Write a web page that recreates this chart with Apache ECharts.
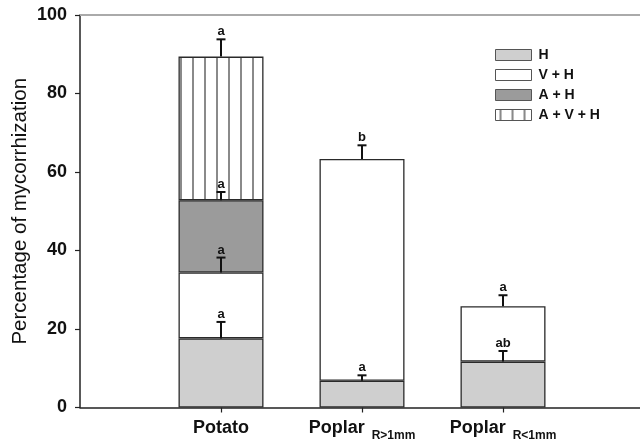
<!DOCTYPE html>
<html><head><meta charset="utf-8">
<script src="https://cdn.jsdelivr.net/npm/echarts@6/dist/echarts.min.js"></script>
<style>html,body{margin:0;padding:0;background:#fff}#c{width:640px;height:442px}</style>
</head><body><div id="c"></div>
<script>
// ---- data ----
const categories = ['', 'Potato', 'Poplar', 'Poplar', ''];
const subscripts = ['', '', 'R>1mm', 'R<1mm', ''];
const seriesNames = ['H', 'V + H', 'A + H', 'A + V + H'];
const valH   = ['-', 17.6, 6.8, 11.7, '-'];
const valVH  = ['-', 16.8, 56.5, 14.1, '-'];
const valAH  = ['-', 18.4, '-', '-', '-'];
const valAVH = ['-', 36.6, '-', '-', '-'];
const errH   = [null, 4.2, 1.4, 2.7, null];
const errVH  = [null, 3.8, 3.5, 2.8, null];
const errAH  = [null, 2.1, null, null, null];
const errAVH = [null, 4.4, null, null, null];
const letH   = ['', 'a', 'a', 'ab', ''];
const letVH  = ['', 'a', 'b', 'a', ''];
const letAH  = ['', 'a', '', '', ''];
const letAVH = ['', 'a', '', '', ''];
const yTickLabels = [0, 20, 40, 60, 80, 100];

// ---- build ----
const FONT = '"Liberation Sans", Arial, sans-serif';
function makePattern(offset) {
  const c = document.createElement('canvas');
  c.width = 12; c.height = 12;
  const g = c.getContext('2d');
  g.fillStyle = '#ffffff'; g.fillRect(0, 0, 12, 12);
  g.fillStyle = '#8a8a8a'; g.fillRect(offset, 0, 2, 12);
  return c;
}
const hatch = { image: makePattern(0), repeat: 'repeat' };
const hatchLegend = { image: makePattern(4), repeat: 'repeat' };

const vals = [valH, valVH, valAH, valAVH];
const errs = [errH, errVH, errAH, errAVH];
const lets = [letH, letVH, letAH, letAVH];
const fills = ['#cfcfcf', '#ffffff', '#9b9b9b', hatch];

const errData = [];
for (let i = 0; i < categories.length; i++) {
  let cum = 0;
  for (let s = 0; s < vals.length; s++) {
    const v = vals[s][i];
    if (typeof v === 'number') {
      cum += v;
      if (errs[s][i] != null) errData.push([i, cum, errs[s][i], lets[s][i]]);
    }
  }
}

const barSeries = seriesNames.map((n, s) => ({
  name: n, type: 'bar', stack: 'tot', barWidth: 85, data: vals[s],
  itemStyle: { color: fills[s], borderColor: '#2a2a2a', borderWidth: 1.3 },
  emphasis: { disabled: true }, animation: false
}));

const errSeries = {
  type: 'custom', z: 10, animation: false,
  data: errData.map(d => [d[0], d[1], d[2]]),
  encode: { x: 0, y: 1 },
  renderItem: function (params, api) {
    const x = api.value(0), top = api.value(1), e = api.value(2);
    const p0 = api.coord([x, top]);
    const p1 = api.coord([x, top + e]);
    const label = errData[params.dataIndex][3];
    return { type: 'group', children: [
      { type: 'line', shape: { x1: p0[0], y1: p0[1], x2: p1[0], y2: p1[1] }, style: { stroke: '#111', lineWidth: 2 } },
      { type: 'line', shape: { x1: p1[0] - 4.5, y1: p1[1], x2: p1[0] + 4.5, y2: p1[1] }, style: { stroke: '#111', lineWidth: 2 } },
      { type: 'text', x: p1[0], y: p1[1] - 1, style: { text: label, align: 'center', verticalAlign: 'bottom', font: 'bold 13px ' + FONT, fill: '#111' } }
    ] };
  }
};

const chart = echarts.init(document.getElementById('c'), null, { renderer: 'canvas' });
chart.setOption({
  animation: false,
  backgroundColor: '#fff',
  grid: { left: 80, width: 564, top: 15, bottom: 34.5, containLabel: false, outerBoundsMode: 'none' },
  legend: {
    orient: 'vertical', left: 495, top: 48, padding: 0, itemWidth: 36, itemHeight: 11, itemGap: 6,
    icon: 'rect', selectedMode: false,
    textStyle: { fontSize: 14, fontWeight: 'bold', fontFamily: FONT, color: '#111', padding: [0, 0, 0, 2] },
    data: seriesNames.map((n, s) => s === 3 ? { name: n, itemStyle: { color: hatchLegend, borderColor: '#555', borderWidth: 1 } } : { name: n, itemStyle: { borderColor: '#555', borderWidth: 1 } })
  },
  xAxis: [{
    type: 'category', data: categories, boundaryGap: false,
    axisLine: { lineStyle: { color: '#222', width: 1.5 } },
    axisTick: { length: 5, lineStyle: { color: '#222', width: 1.2 }, interval: (i) => i > 0 && i < categories.length - 1 },
    axisLabel: {
      interval: 0, margin: 12,
      formatter: (v, i) => v === '' ? '' : (subscripts[i] ? '{m|' + v + ' }{s|' + subscripts[i] + '}' : '{m|' + v + '}'),
      rich: {
        m: { fontSize: 18, fontWeight: 'bold', fontFamily: FONT, color: '#111', lineHeight: 20, verticalAlign: 'top' },
        s: { fontSize: 12, fontWeight: 'bold', fontFamily: FONT, color: '#111', lineHeight: 32, verticalAlign: 'middle', padding: [0, 0, 0, 2] }
      }
    },
    splitLine: { show: false }
  }, {
    type: 'category', data: categories, boundaryGap: false, position: 'top',
    axisLine: { lineStyle: { color: '#aaaaaa', width: 2 } },
    axisTick: { show: false }, axisLabel: { show: false }, splitLine: { show: false }
  }],
  yAxis: {
    type: 'value', min: yTickLabels[0], max: yTickLabels[yTickLabels.length - 1], interval: yTickLabels[1] - yTickLabels[0],
    name: 'Percentage of mycorrhization', nameLocation: 'middle', nameGap: 49, nameMoveOverlap: false,
    nameTextStyle: { fontSize: 20.5, fontFamily: FONT, color: '#111' },
    axisLine: { show: true, lineStyle: { color: '#222', width: 1.5 } },
    axisTick: { show: true, length: 5, lineStyle: { color: '#222', width: 1.2 } },
    axisLabel: { margin: 13, fontSize: 18, fontWeight: 'bold', fontFamily: FONT, color: '#111' },
    splitLine: { show: false }
  },
  series: barSeries.concat([errSeries])
});
</script>
</body></html>
